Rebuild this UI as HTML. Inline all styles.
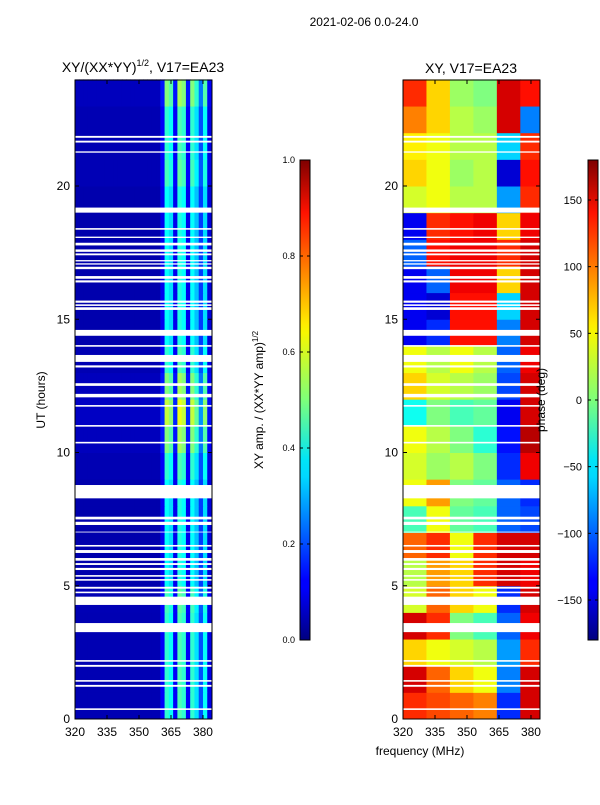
<!DOCTYPE html>
<html><head><meta charset="utf-8">
<style>
body{margin:0;background:#fff;font-family:"Liberation Sans","DejaVu Sans",sans-serif;}
svg text{font-family:"Liberation Sans","DejaVu Sans",sans-serif;}
</style></head>
<body>
<svg id="fig" width="600" height="800" viewBox="0 0 600 800" xmlns="http://www.w3.org/2000/svg">
<defs>
<linearGradient id="jet" x1="0" y1="1" x2="0" y2="0">
<stop offset="0" stop-color="#00007f"/><stop offset="0.11" stop-color="#0000ff"/>
<stop offset="0.125" stop-color="#0000ff"/><stop offset="0.34" stop-color="#00d8ff"/>
<stop offset="0.375" stop-color="#00e5f7"/><stop offset="0.5" stop-color="#7dff7a"/>
<stop offset="0.64" stop-color="#f7f800"/><stop offset="0.66" stop-color="#ffea00"/>
<stop offset="0.89" stop-color="#ff1200"/><stop offset="1" stop-color="#7f0000"/>
</linearGradient>
</defs>
<text x="364" y="26" font-size="12" text-anchor="middle">2021-02-06 0.0-24.0</text>
<g id="left"></g>
<g id="right"></g>
<text x="143" y="72" font-size="14" text-anchor="middle">XY/(XX*YY)<tspan font-size="9" dy="-6">1/2</tspan><tspan dy="6">, V17=EA23</tspan></text>
<text x="471" y="73" font-size="14" text-anchor="middle">XY, V17=EA23</text>
<text transform="translate(45,400) rotate(-90)" font-size="12" text-anchor="middle">UT (hours)</text>
<text x="420" y="755" font-size="12" text-anchor="middle">frequency (MHz)</text>
<rect x="300" y="160" width="10" height="480" fill="url(#jet)" stroke="#000" stroke-width="1"/>
<rect x="588" y="160" width="10" height="480" fill="url(#jet)" stroke="#000" stroke-width="1"/>
<g id="cb1"></g>
<g id="cb2"></g>
<text transform="translate(263,400) rotate(-90)" font-size="12" text-anchor="middle">XY amp. / (XX*YY amp)<tspan font-size="8" dy="-5">1/2</tspan></text>
<text transform="translate(545,400) rotate(-90)" font-size="12" text-anchor="middle">phase (deg)</text>
</svg>
<script>
// ---- data ----
const hours = [0,1,2,3,4,5,6,7,8,9,10,11,12,13,14,15,16,17,18,19,20,21,22,23];
const ampChannelsMHz = [320,322,324,326,328,330,332,334,336,338,340,342,344,346,348,350,352,354,356,358,360,362,364,366,368,370,372,374,376,378,380,382];
const ampProfile = [0.05,0.05,0.05,0.05,0.05,0.05,0.05,0.05,0.05,0.05,0.05,0.05,0.05,0.05,0.05,0.05,0.05,0.05,0.05,0.05,0.12,0.42,0.38,0.12,0.45,0.42,0.12,0.42,0.35,0.2,0.38,0.1];
const ampHourScale = [1.0,1.0,1.0,1.0,1.05,0.9,0.9,0.9,0.9,1.0,1.2,1.35,1.2,1.0,0.9,0.9,0.9,0.9,0.9,0.9,1.05,1.0,1.0,1.2];
const phaseBandsMHz = [320,331,342,353,364,375];
const phaseBandEnd = 384;
const phaseValues = [
 [120,110,100,90,-120,150],
 [150,100,60,40,-90,150],
 [60,40,30,20,-80,120],
 [150,120,0,-20,-100,140],
 [30,100,60,40,-120,150],
 [20,80,60,120,150,140],
 [100,120,40,120,150,150],
 [-20,40,-10,-20,-100,-110],
 [40,80,0,-10,-100,-120],
 [30,10,20,0,-120,140],
 [40,20,0,-30,-130,160],
 [-40,0,-20,-10,-140,150],
 [60,30,20,10,-110,150],
 [40,20,40,20,-100,140],
 [-140,-120,130,130,-90,150],
 [-140,-150,130,130,-60,150],
 [-140,-100,140,140,60,150],
 [-100,130,140,140,120,150],
 [-140,120,130,140,60,140],
 [30,40,20,20,-80,120],
 [60,40,10,20,-150,130],
 [50,40,20,20,-60,120],
 [90,60,20,10,150,-90],
 [120,60,10,0,150,130]];
const gapStart = [0.34,1.21,1.40,1.96,2.15,3.26,4.28,4.72,4.89,5.19,5.34,5.59,5.78,5.94,6.23,6.47,7.0,7.28,7.49,8.28,10.34,10.97,11.72,12.07,12.5,13.19,13.4,13.97,14.38,15.35,15.5,15.62,16.38,16.52,16.88,17.05,17.17,17.4,17.53,17.77,18.05,18.36,19.0,21.25,21.63,21.81];
const gapEnd   = [0.40,1.28,1.46,2.03,2.21,3.60,4.59,4.78,4.96,5.25,5.40,5.67,5.85,6.04,6.34,6.53,7.03,7.40,7.59,8.78,10.40,11.03,11.78,12.20,12.6,13.27,13.66,14.03,14.60,15.45,15.56,15.70,16.46,16.62,16.97,17.10,17.22,17.47,17.62,17.87,18.10,18.42,19.19,21.30,21.70,21.88];
const xTicks = [320,335,350,365,380];
const yTicks = [0,5,10,15,20];
const ampCbTicks = [0.0,0.2,0.4,0.6,0.8,1.0];
const phaseCbTicks = [-150,-100,-50,0,50,100,150];

// ---- scales ----
const NS="http://www.w3.org/2000/svg";
const Y0=719, PXH=26.65;
function yS(h){return Y0-h*PXH;}
function xS(x0,f){return x0+(f-320)*2.133;}
function jet(v){v=Math.max(0,Math.min(1,v));
 const r=Math.max(0,Math.min(1,1.5-Math.abs(4*v-3))),g=Math.max(0,Math.min(1,1.5-Math.abs(4*v-2))),b=Math.max(0,Math.min(1,1.5-Math.abs(4*v-1)));
 return `rgb(${Math.round(r*255)},${Math.round(g*255)},${Math.round(b*255)})`;}
function mk(tag,attrs,parent){const e=document.createElementNS(NS,tag);for(const k in attrs)e.setAttribute(k,attrs[k]);parent.appendChild(e);return e;}

function drawPanel(g,x0,cellsFn){
 cellsFn();
 gapStart.forEach((s,i)=>{
  const r=mk('rect',{x:x0,y:yS(gapEnd[i]),width:137,height:(gapEnd[i]-s)*PXH,fill:'#fff'},g);
  
  
 });
 const fr=mk('rect',{x:x0,y:80,width:137,height:639,fill:'none',stroke:'#000','stroke-width':1},g);
 
 
 xTicks.forEach(t=>{const x=xS(x0,t);
  mk('line',{x1:x,x2:x,y1:719,y2:715,stroke:'#000'},g);mk('line',{x1:x,x2:x,y1:80,y2:84,stroke:'#000'},g);
  const tx=mk('text',{x:x,y:736,'font-size':12,'text-anchor':'middle'},g);tx.textContent=t;
  
  });
 yTicks.forEach(t=>{const y=yS(t);
  mk('line',{x1:x0,x2:x0+4,y1:y,y2:y,stroke:'#000'},g);mk('line',{x1:x0+137,x2:x0+133,y1:y,y2:y,stroke:'#000'},g);
  const tx=mk('text',{x:x0-5,y:y+4,'font-size':12,'text-anchor':'end'},g);tx.textContent=t;
  
  });
}
const L=document.getElementById('left'),R=document.getElementById('right');
drawPanel(L,75,()=>{
 hours.forEach((h,i)=>{ampChannelsMHz.forEach((f,j)=>{
  const r=mk('rect',{x:xS(75,f),y:yS(h+1),width:2*2.133+0.5,height:PXH+0.5,fill:jet(ampProfile[j]*ampHourScale[i])},L);
  
  
 });});
});
drawPanel(R,403,()=>{
 hours.forEach((h,i)=>{phaseBandsMHz.forEach((f,j)=>{
  const fe=j+1<phaseBandsMHz.length?phaseBandsMHz[j+1]:phaseBandEnd;
  const r=mk('rect',{x:xS(403,f),y:yS(h+1),width:(fe-f)*2.133+0.5,height:PXH+0.5,fill:jet((phaseValues[i][j]+180)/360)},R);
  
  
 });});
});
const cb1=document.getElementById('cb1'),cb2=document.getElementById('cb2');
ampCbTicks.forEach(t=>{const y=640-t*480;
 mk('line',{x1:300,x2:303,y1:y,y2:y,stroke:'#000'},cb1);mk('line',{x1:310,x2:307,y1:y,y2:y,stroke:'#000'},cb1);
 const tx=mk('text',{x:295,y:y+3,'font-size':9,'text-anchor':'end'},cb1);tx.textContent=t.toFixed(1);
 
 });
phaseCbTicks.forEach(t=>{const y=640-(t+180)/360*480;
 mk('line',{x1:588,x2:591,y1:y,y2:y,stroke:'#000'},cb2);mk('line',{x1:598,x2:595,y1:y,y2:y,stroke:'#000'},cb2);
 const tx=mk('text',{x:582,y:y+4,'font-size':11,'text-anchor':'end'},cb2);tx.textContent=t<0?'\u2212'+(-t):t;
 
 });
</script>
</body></html>
